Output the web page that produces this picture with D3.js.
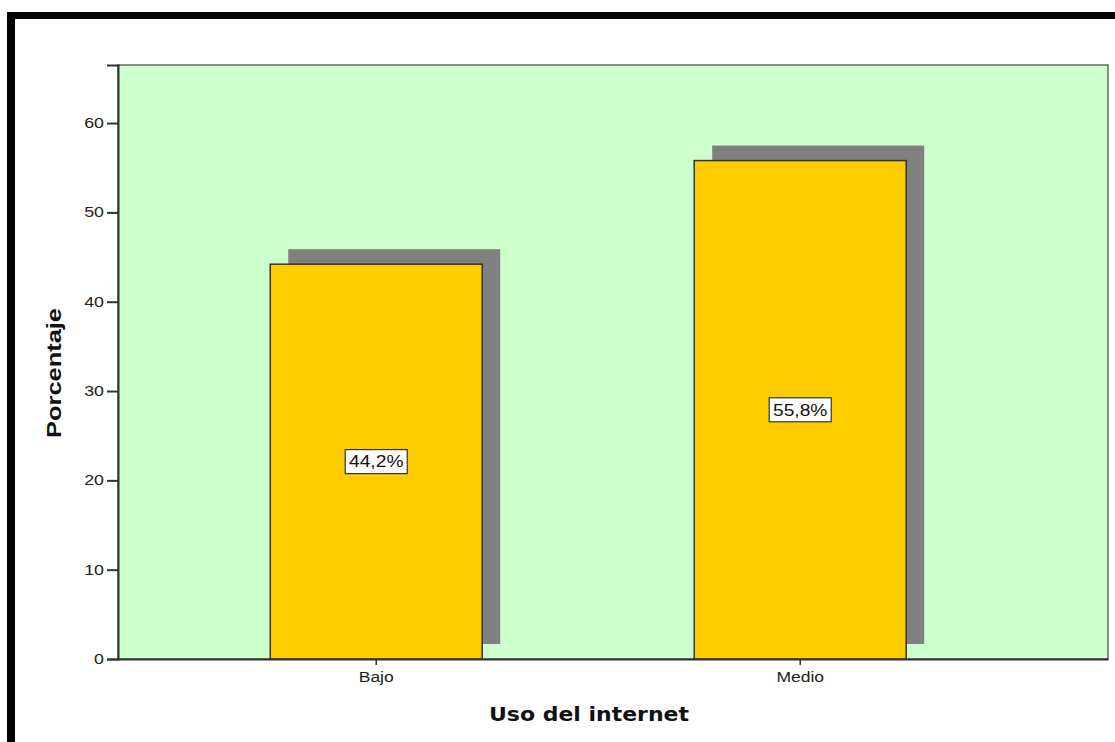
<!DOCTYPE html>
<html>
<head>
<meta charset="utf-8">
<script src="https://cdn.jsdelivr.net/npm/d3@7"></script>
<style>
  body { margin: 0; background: #fff; }
  svg { display: block; }
</style>
</head>
<body>
<div id="chart"></div>
<script>
// data
const categories = ["Bajo", "Medio"];
const percentages = [44.2, 55.8];
const valueLabels = ["44,2%", "55,8%"];
const yTicks = [0, 10, 20, 30, 40, 50, 60];

const width = 1115, height = 742;
const plot = { left: 118, top: 65, right: 1108, bottom: 659 };

const svg = d3.select("#chart").append("svg")
    .attr("width", width)
    .attr("height", height);

// the original text is a horizontally stretched Arial
function stretch(sel, k) {
    sel.each(function () {
        const w = this.getComputedTextLength();
        d3.select(this)
            .attr("textLength", w * k)
            .attr("lengthAdjust", "spacingAndGlyphs");
    });
}

// black frame (top and left edges)
svg.append("rect").attr("x", 7).attr("y", 12).attr("width", width - 7).attr("height", 7).attr("fill", "#000");
svg.append("rect").attr("x", 7).attr("y", 12).attr("width", 8).attr("height", height - 12).attr("fill", "#000");

const y = d3.scaleLinear()
    .domain([0, 66.5])
    .range([plot.bottom, plot.top]);

const x = d3.scaleBand()
    .domain(categories)
    .range([plot.left, plot.right])
    .paddingInner(0.5)
    .paddingOuter(0.4175)
    .align(0.43);

// plot background
svg.append("rect")
    .attr("x", plot.left).attr("y", plot.top)
    .attr("width", plot.right - plot.left).attr("height", plot.bottom - plot.top)
    .attr("fill", "#ccffcc")
    .attr("stroke", "#666")
    .attr("stroke-width", 1.5);

const shadowDx = 18, shadowDy = -15;

// shadows
svg.append("g")
    .selectAll("rect")
    .data(categories)
    .enter().append("rect")
    .attr("x", d => x(d) + shadowDx)
    .attr("y", (d, i) => y(percentages[i]) + shadowDy)
    .attr("width", x.bandwidth())
    .attr("height", (d, i) => y(0) - y(percentages[i]))
    .attr("fill", "#808080");

// bars
svg.append("g")
    .selectAll("rect")
    .data(categories)
    .enter().append("rect")
    .attr("x", d => x(d))
    .attr("y", (d, i) => y(percentages[i]))
    .attr("width", x.bandwidth())
    .attr("height", (d, i) => y(0) - y(percentages[i]))
    .attr("fill", "#ffcc00")
    .attr("stroke", "#333")
    .attr("stroke-width", 1.5);

// value labels in boxes
const lbl = svg.append("g")
    .selectAll("g")
    .data(categories)
    .enter().append("g")
    .attr("transform", (d, i) => `translate(${x(d) + x.bandwidth() / 2},${y(percentages[i] / 2)})`);

lbl.append("rect")
    .attr("x", -31).attr("y", -12)
    .attr("width", 62).attr("height", 24)
    .attr("fill", "#fff")
    .attr("stroke", "#333")
    .attr("stroke-width", 1.2);

lbl.append("text")
    .attr("text-anchor", "middle")
    .attr("dy", "0.36em")
    .attr("font-family", "Liberation Sans, Arial, sans-serif")
    .attr("font-size", 16)
    .attr("fill", "#111")
    .text((d, i) => valueLabels[i])
    .call(stretch, 1.2);

// y axis
const yAxis = svg.append("g")
    .attr("transform", `translate(${plot.left},0)`)
    .call(d3.axisLeft(y).tickValues(yTicks).tickSize(11).tickPadding(3));
yAxis.select(".domain").attr("stroke", "#333").attr("stroke-width", 2);
yAxis.selectAll(".tick line").attr("stroke", "#333").attr("stroke-width", 2);
yAxis.selectAll(".tick text")
    .attr("font-family", "Liberation Sans, Arial, sans-serif")
    .attr("font-size", 14)
    .attr("fill", "#222")
    .call(stretch, 1.27);

// x axis
const xAxis = svg.append("g")
    .attr("transform", `translate(0,${plot.bottom})`)
    .call(d3.axisBottom(x).tickSize(6).tickPadding(7).tickSizeOuter(0));
xAxis.select(".domain").attr("stroke", "#333").attr("stroke-width", 2);
xAxis.selectAll(".tick line").attr("stroke", "#333").attr("stroke-width", 1.5);
xAxis.selectAll(".tick text")
    .attr("font-family", "Liberation Sans, Arial, sans-serif")
    .attr("font-size", 14)
    .attr("fill", "#222")
    .call(stretch, 1.25);

// axis titles
svg.append("text")
    .attr("transform", "translate(61,373) rotate(-90)")
    .attr("text-anchor", "middle")
    .attr("font-family", "Liberation Sans, Arial, sans-serif")
    .attr("font-weight", "bold")
    .attr("font-size", 20)
    .attr("textLength", 130)
    .attr("lengthAdjust", "spacingAndGlyphs")
    .attr("fill", "#111")
    .text("Porcentaje");

svg.append("text")
    .attr("x", 589).attr("y", 721)
    .attr("text-anchor", "middle")
    .attr("font-family", "DejaVu Sans, sans-serif")
    .attr("font-weight", "bold")
    .attr("font-size", 19)
    .attr("textLength", 200)
    .attr("lengthAdjust", "spacingAndGlyphs")
    .attr("fill", "#111")
    .text("Uso del internet");
</script>
</body>
</html>
